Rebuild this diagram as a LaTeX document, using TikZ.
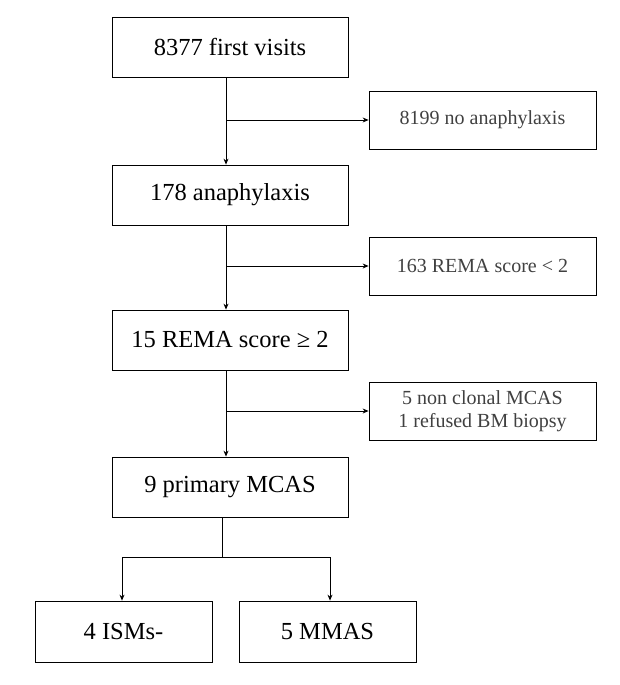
\documentclass[tikz,border=0pt]{standalone}
\usepackage{fontspec}
\setmainfont{Liberation Serif}
\usetikzlibrary{arrows.meta}
\begin{document}
\begin{tikzpicture}[x=1pt,y=-1pt,
  mainbox/.style={draw,line width=0.8pt,minimum width=236pt,minimum height=60pt,font=\fontsize{24.5}{28}\selectfont},
  sidebox/.style={draw,line width=0.8pt,minimum width=227pt,minimum height=58pt,font=\fontsize{20}{23}\selectfont,align=center,text=black!75},
  lowbox/.style={draw,line width=0.8pt,minimum width=177pt,minimum height=61pt,font=\fontsize{24.5}{28}\selectfont},
  arr/.style={line width=0.8pt,-{Stealth[length=6pt,width=5pt]}},
  ln/.style={line width=0.8pt}]
\useasboundingbox (0,0) rectangle (619,685);
\node[mainbox] (a) at (230,47) {8377 first visits};
\node[sidebox] (s1) at (482.5,120) {8199 no anaphylaxis};
\node[mainbox] (b) at (230,195) {178 anaphylaxis};
\node[sidebox] (s2) at (482.5,266) {163 REMA score < 2};
\node[mainbox] (c) at (230,340) {15 REMA score ≥ 2};
\node[sidebox] (s3) at (482.5,411) {5 non clonal MCAS\\1 refused BM biopsy};
\node[mainbox] (d) at (230,487) {9 primary MCAS};
\node[lowbox] (e) at (123.5,631.5) {4 ISMs-};
\node[lowbox] (f) at (327.5,631.5) {5 MMAS};
\coordinate (j1) at (226,120);
\coordinate (j2) at (226,266);
\coordinate (j3) at (226,411);
\draw[arr] (a.south -| j1) -- (b.north -| j1);
\draw[arr] (j1) -- (s1.west);
\draw[arr] (b.south -| j2) -- (c.north -| j2);
\draw[arr] (j2) -- (s2.west);
\draw[arr] (c.south -| j3) -- (d.north -| j3);
\draw[arr] (j3) -- (s3.west);
\coordinate (m) at (222,557);
\coordinate (ml) at (122,557);
\coordinate (mr) at (330,557);
\draw[ln] (d.south -| m) -- (m);
\draw[ln] (ml) -- (mr);
\draw[arr] (ml) -- (e.north -| ml);
\draw[arr] (mr) -- (f.north -| mr);
\end{tikzpicture}
\end{document}
